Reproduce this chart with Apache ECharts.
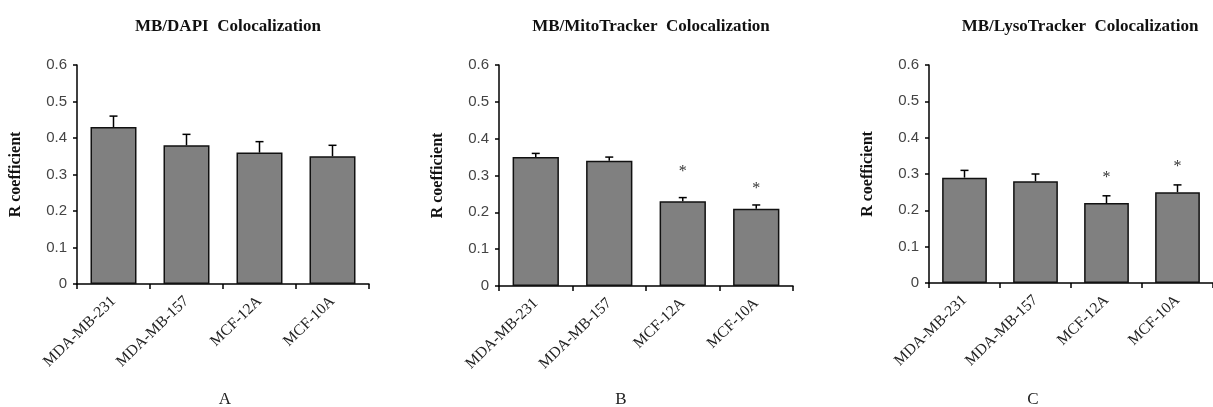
<!DOCTYPE html>
<html>
<head>
<meta charset="utf-8">
<script src="https://cdn.jsdelivr.net/npm/echarts@6/dist/echarts.min.js"></script>
<style>
  * { margin: 0; padding: 0; }
  body { background: #fff; }
  #chart { width: 1213px; height: 407px; }
</style>
</head>
<body>
<div id="chart"></div>
<script>
// cell lines
var categories = ["MDA-MB-231", "MDA-MB-157", "MCF-12A", "MCF-10A"];
var yTicks = [0, 0.1, 0.2, 0.3, 0.4, 0.5, 0.6];

// panel A - MB/DAPI
var dapiMean = [0.43, 0.38, 0.36, 0.35];
var dapiErr = [0.03, 0.03, 0.03, 0.03];
var dapiStar = [null, null, null, null];

// panel B - MB/MitoTracker
var mitoMean = [0.35, 0.34, 0.23, 0.21];
var mitoErr = [0.01, 0.01, 0.01, 0.01];
var mitoStar = [null, null, 0.32, 0.275];

// panel C - MB/LysoTracker
var lysoMean = [0.29, 0.28, 0.22, 0.25];
var lysoErr = [0.02, 0.02, 0.02, 0.02];
var lysoStar = [null, null, 0.30, 0.33];

var panelTitles = ["MB/DAPI  Colocalization", "MB/MitoTracker  Colocalization", "MB/LysoTracker  Colocalization"];
var panelLetters = ["A", "B", "C"];

var serif = "'Liberation Serif', 'Times New Roman', serif";
var sans = "'Liberation Sans', Arial, sans-serif";

var grids = [
  { left: 77, width: 292, top: 65, height: 219 },
  { left: 499, width: 294, top: 65, height: 221 },
  { left: 929, width: 293, top: 65, height: 218 }
];
var titleX = [223, 646, 1075];
var letterX = [220, 616, 1028];

var panels = [
  { mean: dapiMean, err: dapiErr, star: dapiStar },
  { mean: mitoMean, err: mitoErr, star: mitoStar },
  { mean: lysoMean, err: lysoErr, star: lysoStar }
];

var chart = echarts.init(document.getElementById("chart"));

var titles = [], xAxes = [], yAxes = [], series = [];

panels.forEach(function (p, k) {
  titles.push({
    text: panelTitles[k],
    left: titleX[k], top: 13, textAlign: "center",
    textStyle: { fontFamily: serif, fontWeight: "bold", fontSize: 17, color: "#111" }
  });
  titles.push({
    text: panelLetters[k],
    left: letterX[k], top: 386, textAlign: "center",
    textStyle: { fontFamily: serif, fontWeight: "normal", fontSize: 17, color: "#222" }
  });

  xAxes.push({
    type: "category", gridIndex: k, data: categories,
    axisLine: { lineStyle: { color: "#000", width: 1.5 } },
    axisTick: { show: true, length: 5, lineStyle: { color: "#000", width: 1.5 } },
    axisLabel: {
      rotate: 44, margin: 15, interval: 0,
      fontFamily: serif, fontSize: 15.5, color: "#222"
    },
    splitLine: { show: false }
  });

  yAxes.push({
    type: "value", gridIndex: k, min: 0, max: 0.6, interval: 0.1,
    name: "R coefficient", nameLocation: "middle", nameGap: 53,
    nameTextStyle: { fontFamily: serif, fontWeight: "bold", fontSize: 16, color: "#111" },
    axisLine: { show: true, lineStyle: { color: "#000", width: 1.5 } },
    axisTick: { show: true, length: 4, lineStyle: { color: "#000", width: 1.5 } },
    axisLabel: {
      fontFamily: sans, fontSize: 15, color: "#444", margin: 10,
      formatter: function (v) { return String(Math.round(v * 10) / 10); }
    },
    splitLine: { show: false }
  });

  series.push({
    type: "bar", xAxisIndex: k, yAxisIndex: k,
    data: p.mean, barCategoryGap: "37%",
    itemStyle: { color: "#808080", borderColor: "#111", borderWidth: 1.5 },
    z: 2
  });

  series.push({
    type: "custom", xAxisIndex: k, yAxisIndex: k, z: 3,
    data: p.mean.map(function (m, i) { return [i, m, m + p.err[i]]; }),
    renderItem: function (params, api) {
      var base = api.coord([api.value(0), api.value(1)]);
      var top = api.coord([api.value(0), api.value(2)]);
      var st = { stroke: "#000", lineWidth: 1.5 };
      return {
        type: "group",
        children: [
          { type: "line", shape: { x1: base[0], y1: base[1], x2: top[0], y2: top[1] }, style: st },
          { type: "line", shape: { x1: top[0] - 4, y1: top[1], x2: top[0] + 4, y2: top[1] }, style: st }
        ]
      };
    }
  });

  series.push({
    type: "custom", xAxisIndex: k, yAxisIndex: k, z: 4,
    data: p.star.map(function (s, i) { return s == null ? null : [i, s]; }).filter(function (d) { return d; }),
    renderItem: function (params, api) {
      var pt = api.coord([api.value(0), api.value(1)]);
      return {
        type: "text",
        style: {
          text: "*", x: pt[0], y: pt[1] + 4,
          align: "center", verticalAlign: "middle",
          font: "16px " + serif, fill: "#333"
        }
      };
    }
  });
});

var option = {
  backgroundColor: "#fff",
  animation: false,
  title: titles,
  grid: grids,
  xAxis: xAxes,
  yAxis: yAxes,
  series: series
};

chart.setOption(option);
</script>
</body>
</html>
